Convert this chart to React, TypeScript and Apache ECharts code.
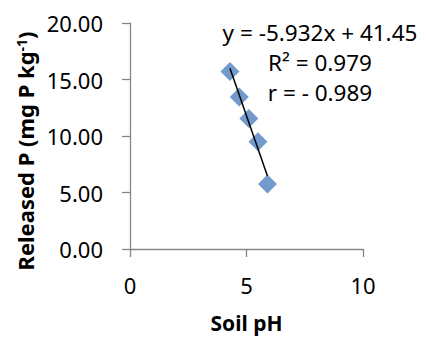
import React, { useEffect, useRef } from "react";
import * as echarts from "echarts";

// Soil pH vs. phosphorus released
const soilPH = [4.29, 4.69, 5.1, 5.49, 5.9];
const releasedP = [15.7, 13.45, 11.55, 9.5, 5.76];

// Linear fit shown on the chart
const slope = -5.932;
const intercept = 41.45;
const rSquared = "0.979";
const rValue = "- 0.989";

const xTicks = [0, 5, 10];
const yTicks = [0, 5, 10, 15, 20];

const FONT = "'Noto Sans', 'Open Sans', sans-serif";
const AXIS_COLOR = "#868686";

export default function App() {
  const ref = useRef<HTMLDivElement>(null);

  useEffect(() => {
    if (!ref.current) return;
    document.body.style.margin = "0";
    const chart = echarts.init(ref.current, undefined, { renderer: "svg" });

    const xMin = Math.min(...soilPH);
    const xMax = Math.max(...soilPH);
    const trend = [
      [xMin, slope * xMin + intercept],
      [xMax, slope * xMax + intercept],
    ];

    const noteStyle = {
      fontFamily: FONT,
      fontSize: 22.5,
      fill: "#000",
      align: "center",
      verticalAlign: "middle",
    };

    chart.setOption({
      animation: false,
      backgroundColor: "#ffffff",
      grid: { left: 130, right: 63, top: 23, bottom: 88 },
      xAxis: {
        type: "value",
        min: xTicks[0],
        max: xTicks[xTicks.length - 1],
        interval: 5,
        name: "Soil pH",
        nameLocation: "middle",
        nameGap: 63,
        nameTextStyle: { fontFamily: FONT, fontSize: 21, fontWeight: "bold", color: "#000" },
        axisLine: { show: true, lineStyle: { color: AXIS_COLOR, width: 1.3 } },
        axisTick: { show: true, inside: false, length: 8, lineStyle: { color: AXIS_COLOR, width: 1.3 } },
        axisLabel: { margin: 25, fontFamily: FONT, fontSize: 22, color: "#000" },
        splitLine: { show: false },
      },
      yAxis: {
        type: "value",
        min: yTicks[0],
        max: yTicks[yTicks.length - 1],
        interval: 5,
        axisLine: { show: true, lineStyle: { color: AXIS_COLOR, width: 1.3 } },
        axisTick: { show: true, inside: false, length: 8, lineStyle: { color: AXIS_COLOR, width: 1.3 } },
        axisLabel: {
          margin: 27,
          fontFamily: FONT,
          fontSize: 22,
          color: "#000",
          formatter: (v: number) => v.toFixed(2),
        },
        splitLine: { show: false },
      },
      series: [
        {
          type: "scatter",
          data: soilPH.map((x, i) => [x, releasedP[i]]),
          symbol: "diamond",
          symbolSize: 19,
          itemStyle: { color: "#4F81BD" },
          z: 2,
        },
        {
          type: "line",
          data: trend,
          symbol: "none",
          lineStyle: { color: "#000", width: 1.5 },
          z: 3,
        },
      ],
      graphic: [
        // Y-axis title with superscript unit exponent
        {
          type: "text",
          x: 25,
          y: 151,
          rotation: Math.PI / 2,
          style: {
            text: "Released P (mg P kg{sup|-1})",
            fontFamily: FONT,
            fontSize: 22,
            fontWeight: "bold",
            fill: "#000",
            align: "center",
            verticalAlign: "middle",
            rich: {
              sup: {
                fontFamily: FONT,
                fontSize: 14,
                fontWeight: "bold",
                fill: "#000",
                verticalAlign: "top",
                lineHeight: 14,
              },
            },
          },
        },
        { type: "text", x: 320, y: 32, style: { ...noteStyle, text: `y = ${slope}x + ${intercept}` } },
        { type: "text", x: 320, y: 62, style: { ...noteStyle, text: `R² = ${rSquared}` } },
        { type: "text", x: 320, y: 92, style: { ...noteStyle, text: `r = ${rValue}` } },
      ],
    });

    return () => chart.dispose();
  }, []);

  return <div ref={ref} style={{ width: 426, height: 338 }} />;
}
